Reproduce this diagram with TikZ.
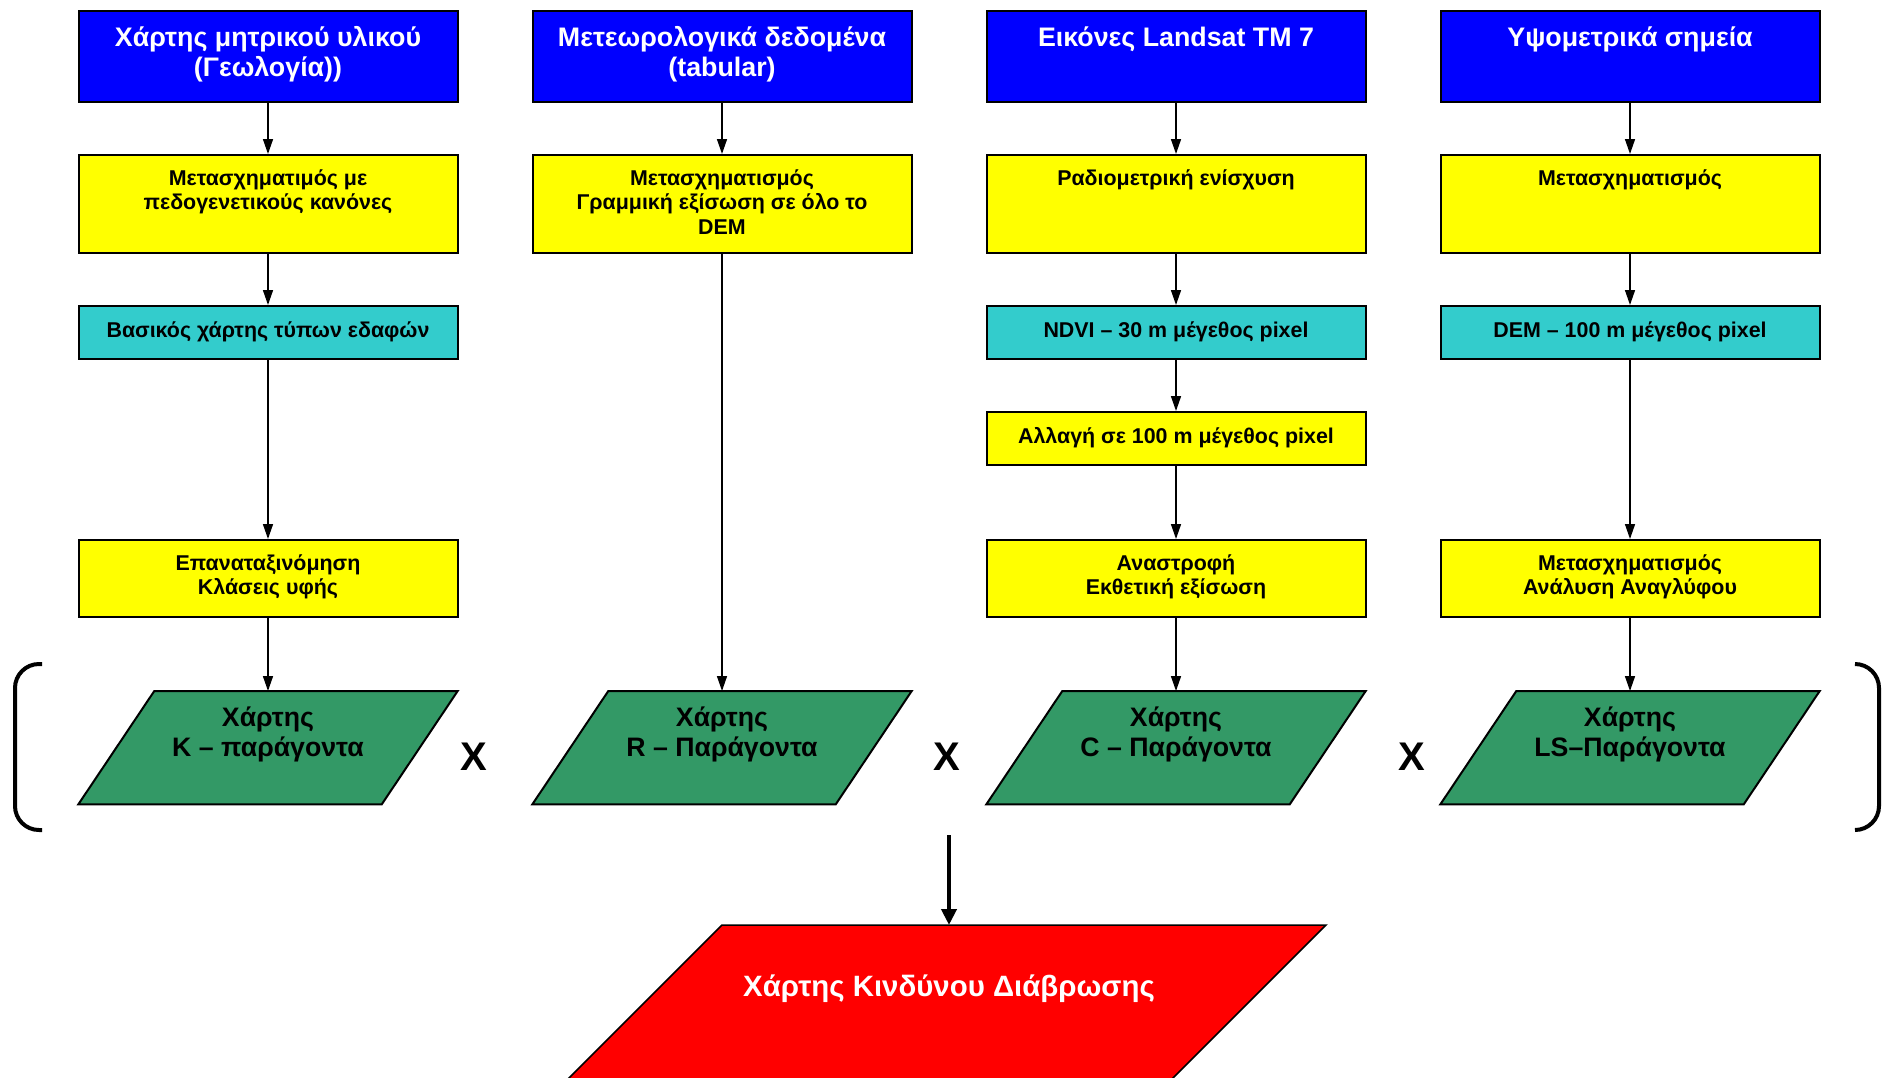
\documentclass[tikz,border=0pt]{standalone}
\usepackage{fontspec}
\setmainfont{Liberation Sans}
\usetikzlibrary{arrows.meta,backgrounds}
\definecolor{bluF}{HTML}{0000FF}
\definecolor{yelF}{HTML}{FFFF00}
\definecolor{cyaF}{HTML}{33CCCC}
\definecolor{grnF}{HTML}{339966}
\definecolor{redF}{HTML}{FF0000}
\newcommand{\bxt}[3]{\parbox[c][#1][t]{379pt}{\centering\rule{0pt}{#2}#3}}
\tikzset{
  bx/.style={draw=black, line width=2pt, inner sep=0pt, anchor=north},
  blu/.style={bx, fill=bluF, text=white, font=\fontsize{26.8}{30}\selectfont\bfseries},
  yel/.style={bx, fill=yelF, font=\fontsize{21.4}{24.5}\selectfont\bfseries},
  cya/.style={bx, fill=cyaF, font=\fontsize{21.4}{24.5}\selectfont\bfseries},
  grn/.style={inner sep=0pt, anchor=north, font=\fontsize{26.7}{30}\selectfont\bfseries},
  para/.style={draw=black, line width=2pt, fill=grnF},
  arr/.style={line width=1.5pt, -{Triangle[length=15pt,width=10pt]}},
  bigarr/.style={line width=4pt, -{Triangle[length=16pt,width=15pt]}},
  xm/.style={font=\fontsize{40}{40}\selectfont\bfseries},
  brk/.style={line width=4pt, rounded corners=24pt},
}
\begin{document}
\begin{tikzpicture}[x=1pt,y=-1pt]
\useasboundingbox (0,0) rectangle (1883,1077);
\clip (0,0) rectangle (1883,1077);
% row 1: blue
\node[blu] (b1) at (268,10) {\bxt{91pt}{35pt}{Χάρτης μητρικού υλικού\\(Γεωλογία))}};
\node[blu] (b2) at (722,10) {\bxt{91pt}{35pt}{Μετεωρολογικά δεδομένα\\(tabular)}};
\node[blu] (b3) at (1176,10) {\bxt{91pt}{35pt}{Εικόνες Landsat TM 7}};
\node[blu] (b4) at (1630,10) {\bxt{91pt}{35pt}{Υψομετρικά σημεία}};
% row 2: yellow
\node[yel] (p1) at (268,154) {\bxt{98pt}{30pt}{Μετασχηματιμός με\\πεδογενετικούς κανόνες}};
\node[yel] (p2) at (722,154) {\bxt{98pt}{30pt}{Μετασχηματισμός\\Γραμμική εξίσωση σε όλο το\\DEM}};
\node[yel] (p3) at (1176,154) {\bxt{98pt}{30pt}{Ραδιομετρική ενίσχυση}};
\node[yel] (p4) at (1630,154) {\bxt{98pt}{30pt}{Μετασχηματισμός}};
% row 3: cyan
\node[cya] (c1) at (268,305) {\bxt{53pt}{31pt}{Βασικός χάρτης τύπων εδαφών}};
\node[cya] (c3) at (1176,305) {\bxt{53pt}{31pt}{NDVI – 30 m μέγεθος pixel}};
\node[cya] (c4) at (1630,305) {\bxt{53pt}{31pt}{DEM – 100 m μέγεθος pixel}};
% resample
\node[yel] (a3) at (1176,411) {\bxt{53pt}{31pt}{Αλλαγή σε 100 m μέγεθος pixel}};
% row 5: yellow
\node[yel] (r1) at (268,539) {\bxt{77pt}{30pt}{Επαναταξινόμηση\\Κλάσεις υφής}};
\node[yel] (r3) at (1176,539) {\bxt{77pt}{30pt}{Αναστροφή\\Εκθετική εξίσωση}};
\node[yel] (r4) at (1630,539) {\bxt{77pt}{30pt}{Μετασχηματισμός\\Ανάλυση Αναγλύφου}};
% row 6: green factor maps
\node[grn] (g1) at (268,691) {\bxt{113pt}{35pt}{Χάρτης\\K – παράγοντα}};
\node[grn] (g2) at (722,691) {\bxt{113pt}{35pt}{Χάρτης\\R – Παράγοντα}};
\node[grn] (g3) at (1176,691) {\bxt{113pt}{35pt}{Χάρτης\\C – Παράγοντα}};
\node[grn] (g4) at (1630,691) {\bxt{113pt}{35pt}{Χάρτης\\LS–Παράγοντα}};
\begin{pgfonlayer}{background}
\foreach \g in {g1,g2,g3,g4}{
  \draw[para] ([xshift=76pt]\g.north west) -- (\g.north east) -- ([xshift=-76pt]\g.south east) -- (\g.south west) -- cycle;
}
\fill[redF, draw=black, line width=1.5pt] (722,925) -- (1326,925) -- (1126,1125) -- (522,1125) -- cycle;
\end{pgfonlayer}
% multiplication signs
\node[xm] (x1) at (474,757) {X};
\node[xm] (x2) at (947,757) {X};
\node[xm] (x3) at (1412,757) {X};
% brackets
\draw[brk] (42,664) -- (15,664) -- (15,830) -- (42,830);
\draw[brk] (1855,664) -- (1879,664) -- (1879,830) -- (1855,830);
% result
\node[text=white, font=\fontsize{29.4}{33}\selectfont\bfseries] (red) at (949,989) {Χάρτης Κινδύνου Διάβρωσης};
\coordinate (bs) at (949,835);
\coordinate (rt) at (949,925);
\draw[bigarr] (bs) -- (rt);
% connectors
\draw[arr] (b1) -- (p1);
\draw[arr] (p1) -- (c1);
\draw[arr] (c1) -- (r1);
\draw[arr] (r1) -- (g1);
\draw[arr] (b2) -- (p2);
\draw[arr] (p2) -- (g2);
\draw[arr] (b3) -- (p3);
\draw[arr] (p3) -- (c3);
\draw[arr] (c3) -- (a3);
\draw[arr] (a3) -- (r3);
\draw[arr] (r3) -- (g3);
\draw[arr] (b4) -- (p4);
\draw[arr] (p4) -- (c4);
\draw[arr] (c4) -- (r4);
\draw[arr] (r4) -- (g4);
\end{tikzpicture}
\end{document}
